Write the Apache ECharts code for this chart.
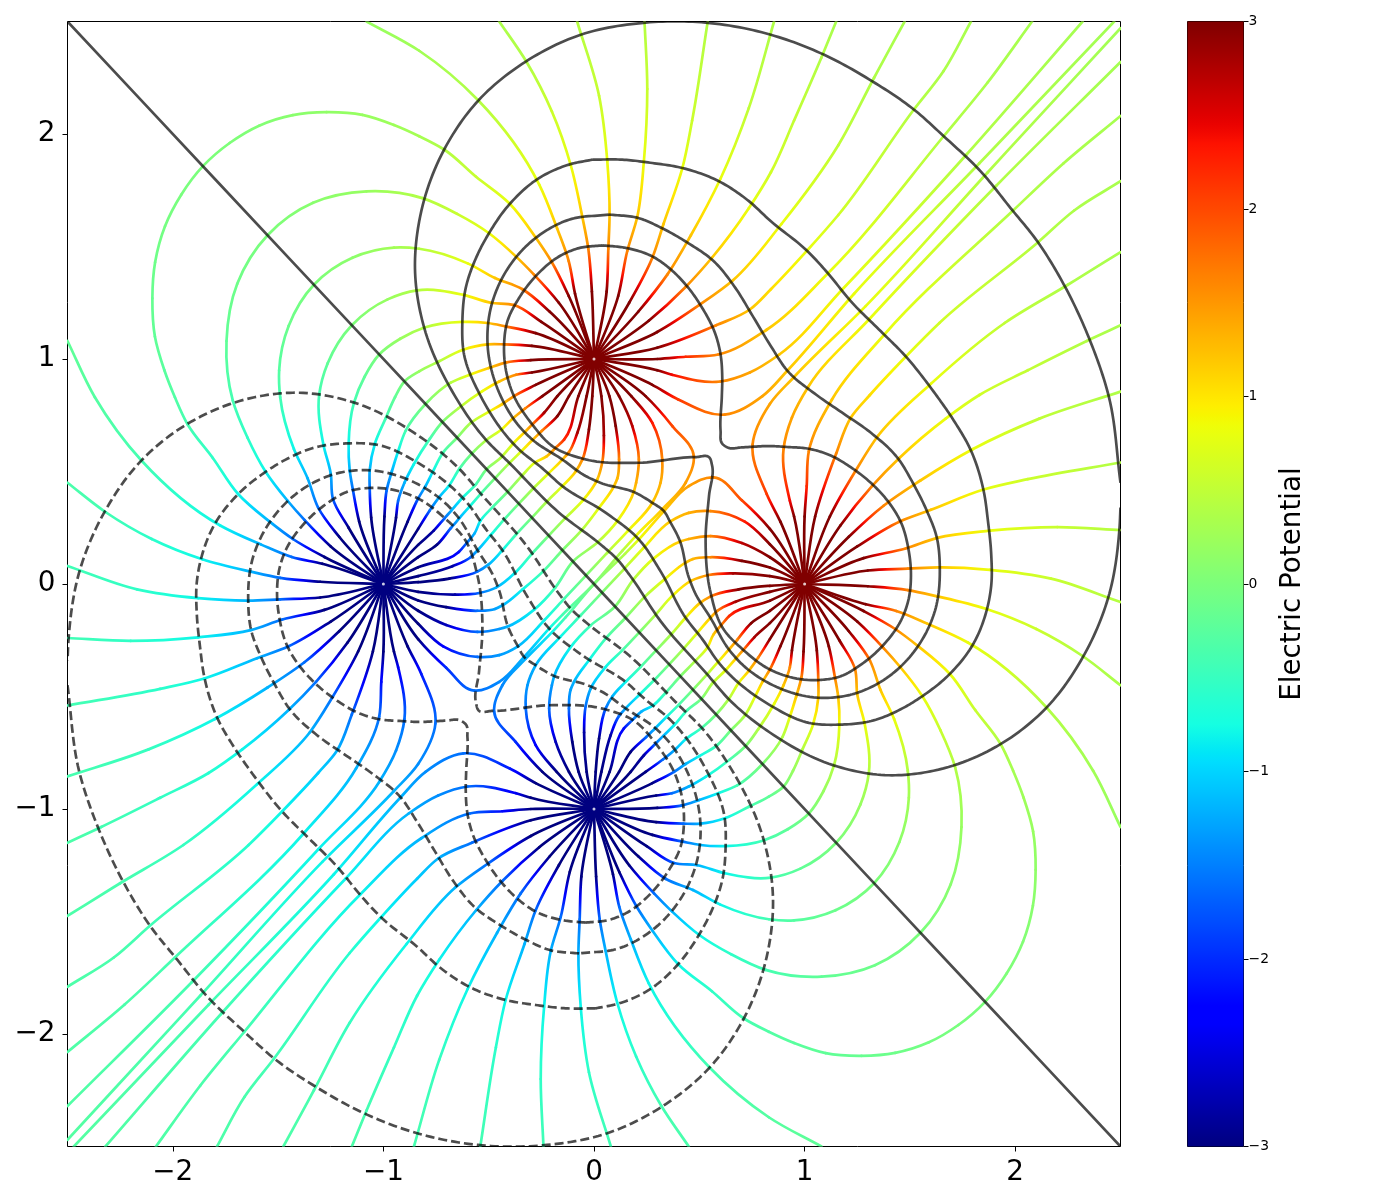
<!DOCTYPE html>
<html><head><meta charset="utf-8">
<style>html,body{margin:0;padding:0;background:#fff}#c{width:1400px;height:1200px}</style>
<script src="https://cdn.jsdelivr.net/npm/echarts@6/dist/echarts.min.js"></script></head>
<body><div id="c"></div>
<script>
const axisTicks=[-2,-1,0,1,2];
const colorTicks=[-3,-2,-1,0,1,2,3];
const colorLabel='Electric Potential';
const charges=[[0,1],[1,0],[-1,0],[0,-1]];
const leaveA=[
[[-1.08,2.5,.2],[-.83,2.37,.28],[-.55,2.15,.4],[-.26,1.775,.8],[-.175,1.58,1.2],[-.12,1.435,1.6],[-.09,1.29,3],[0,1,3]],
[[-.45,2.5,.35],[-.32,2.32,.4],[-.2,2.1,.58],[-.11,1.86,.8],[-.055,1.63,1.2],[-.027,1.49,1.6],[-.01,1.3,3],[0,1,3]],
[[-.08,2.5,.42],[.024,2.17,.55],[.063,1.88,.8],[.074,1.64,1.2],[.068,1.49,1.6],[.06,1.3,3],[0,1,3]],
[[.24,2.5,.42],[.253,2.2,.55],[.237,1.88,.8],[.205,1.63,1.2],[.158,1.48,1.6],[.115,1.28,3],[0,1,3]],
[[.54,2.5,.4],[.466,2.06,.58],[.42,1.85,.8],[.33,1.6,1.2],[.277,1.45,1.6],[.167,1.25,3],[0,1,3]],
[[.855,2.5,.38],[.735,2.115,.5],[.6,1.8,.8],[.46,1.55,1.2],[.348,1.375,1.6],[.21,1.21,3],[0,1,3]],
[[1.15,2.5,.33],[1.08,2.34,.4],[.95,2.06,.52],[.84,1.83,.62],[.735,1.67,.8],[.56,1.45,1.2],[.435,1.32,1.6],[.26,1.17,3],[0,1,3]],
[[1.475,2.5,.33],[1.33,2.25,.38],[1.16,1.95,.5],[.89,1.6,.8],[.66,1.35,1.2],[.5,1.24,1.6],[.3,1.12,3],[0,1,3]],
[[1.79,2.5,.33],[1.66,2.28,.36],[1.52,2.11,.42],[1.16,1.64,.62],[1.01,1.48,.8],[.84,1.31,1.05],[.74,1.22,1.2],[.58,1.15,1.6],[.3,1.05,3],[0,1,3]],
[[2.08,2.5,.32],[1.87,2.23,.35],[1.66,1.99,.4],[1.11,1.38,.8],[.82,1.13,1.2],[.59,1.02,1.6],[.435,1.01,2.2],[.3,1,3],[0,1,3]],
[[2.32,2.5,.3],[1.77,1.91,.4],[1.18,1.31,.8],[.88,1.02,1.2],[.74,.94,1.42],[.6,.9,1.6],[.37,.93,2.4],[.3,.95,3],[0,1,3]],
[[2.47,2.5,.28],[1.83,1.87,.4],[1.235,1.29,.8],[.92,.95,1.2],[.8,.835,1.42],[.62,.753,1.6],[.4,.82,2.1],[.277,.885,3],[0,1,3]]
];
const leaveB=[
[[2.5,-1.08,.2],[2.37,-.83,.28],[2.15,-.55,.4],[1.775,-.26,.8],[1.58,-.175,1.2],[1.435,-.12,1.6],[1.29,-.09,3],[1,0,3]],
[[2.5,-.45,.35],[2.32,-.32,.4],[2.1,-.2,.58],[1.86,-.11,.8],[1.63,-.055,1.2],[1.49,-.027,1.6],[1.3,-.01,3],[1,0,3]],
[[2.5,-.08,.42],[2.17,.024,.55],[1.88,.063,.8],[1.64,.074,1.2],[1.49,.068,1.6],[1.3,.06,3],[1,0,3]],
[[2.5,.24,.42],[2.2,.253,.55],[1.88,.237,.8],[1.63,.205,1.2],[1.48,.158,1.6],[1.28,.115,3],[1,0,3]],
[[2.5,.54,.4],[2.06,.466,.58],[1.85,.42,.8],[1.6,.33,1.2],[1.45,.277,1.6],[1.25,.167,3],[1,0,3]],
[[2.5,.855,.38],[2.115,.735,.5],[1.8,.6,.8],[1.55,.46,1.2],[1.375,.348,1.6],[1.21,.21,3],[1,0,3]],
[[2.5,1.15,.33],[2.34,1.08,.4],[2.06,.95,.52],[1.83,.84,.62],[1.67,.735,.8],[1.45,.56,1.2],[1.32,.435,1.6],[1.17,.26,3],[1,0,3]],
[[2.5,1.475,.33],[2.25,1.33,.38],[1.95,1.16,.5],[1.6,.89,.8],[1.35,.66,1.2],[1.24,.5,1.6],[1.12,.3,3],[1,0,3]],
[[2.5,1.79,.33],[2.28,1.66,.36],[2.11,1.52,.42],[1.64,1.16,.62],[1.48,1.01,.8],[1.31,.84,1.05],[1.22,.74,1.2],[1.15,.58,1.6],[1.05,.3,3],[1,0,3]],
[[2.5,2.08,.32],[2.23,1.87,.35],[1.99,1.66,.4],[1.38,1.11,.8],[1.13,.82,1.2],[1.02,.59,1.6],[1.01,.435,2.2],[1,.3,3],[1,0,3]],
[[2.5,2.32,.3],[1.91,1.77,.4],[1.31,1.18,.8],[1.02,.88,1.2],[.94,.74,1.42],[.9,.6,1.6],[.93,.37,2.4],[.95,.3,3],[1,0,3]],
[[2.5,2.47,.28],[1.87,1.83,.4],[1.29,1.235,.8],[.95,.92,1.2],[.835,.8,1.42],[.753,.62,1.6],[.82,.4,2.1],[.885,.277,3],[1,0,3]]
];
const enterC=[
[[-2.5,1.08,-.2],[-2.37,.83,-.28],[-2.15,.55,-.4],[-1.775,.26,-.8],[-1.58,.175,-1.2],[-1.435,.12,-1.6],[-1.29,.09,-3],[-1,0,-3]],
[[-2.5,.45,-.35],[-2.32,.32,-.4],[-2.1,.2,-.58],[-1.86,.11,-.8],[-1.63,.055,-1.2],[-1.49,.027,-1.6],[-1.3,.01,-3],[-1,0,-3]],
[[-2.5,.08,-.42],[-2.17,-.024,-.55],[-1.88,-.063,-.8],[-1.64,-.074,-1.2],[-1.49,-.068,-1.6],[-1.3,-.06,-3],[-1,0,-3]],
[[-2.5,-.24,-.42],[-2.2,-.253,-.55],[-1.88,-.237,-.8],[-1.63,-.205,-1.2],[-1.48,-.158,-1.6],[-1.28,-.115,-3],[-1,0,-3]],
[[-2.5,-.54,-.4],[-2.06,-.466,-.58],[-1.85,-.42,-.8],[-1.6,-.33,-1.2],[-1.45,-.277,-1.6],[-1.25,-.167,-3],[-1,0,-3]],
[[-2.5,-.855,-.38],[-2.115,-.735,-.5],[-1.8,-.6,-.8],[-1.55,-.46,-1.2],[-1.375,-.348,-1.6],[-1.21,-.21,-3],[-1,0,-3]],
[[-2.5,-1.15,-.33],[-2.34,-1.08,-.4],[-2.06,-.95,-.52],[-1.83,-.84,-.62],[-1.67,-.735,-.8],[-1.45,-.56,-1.2],[-1.32,-.435,-1.6],[-1.17,-.26,-3],[-1,0,-3]],
[[-2.5,-1.475,-.33],[-2.25,-1.33,-.38],[-1.95,-1.16,-.5],[-1.6,-.89,-.8],[-1.35,-.66,-1.2],[-1.24,-.5,-1.6],[-1.12,-.3,-3],[-1,0,-3]],
[[-2.5,-1.79,-.33],[-2.28,-1.66,-.36],[-2.11,-1.52,-.42],[-1.64,-1.16,-.62],[-1.48,-1.01,-.8],[-1.31,-.84,-1.05],[-1.22,-.74,-1.2],[-1.15,-.58,-1.6],[-1.05,-.3,-3],[-1,0,-3]],
[[-2.5,-2.08,-.32],[-2.23,-1.87,-.35],[-1.99,-1.66,-.4],[-1.38,-1.11,-.8],[-1.13,-.82,-1.2],[-1.02,-.59,-1.6],[-1.01,-.435,-2.2],[-1,-.3,-3],[-1,0,-3]],
[[-2.5,-2.32,-.3],[-1.91,-1.77,-.4],[-1.31,-1.18,-.8],[-1.02,-.88,-1.2],[-.94,-.74,-1.42],[-.9,-.6,-1.6],[-.93,-.37,-2.4],[-.95,-.3,-3],[-1,0,-3]],
[[-2.5,-2.47,-.28],[-1.87,-1.83,-.4],[-1.29,-1.235,-.8],[-.95,-.92,-1.2],[-.835,-.8,-1.42],[-.753,-.62,-1.6],[-.82,-.4,-2.1],[-.885,-.277,-3],[-1,0,-3]]
];
const enterD=[
[[1.08,-2.5,-.2],[.83,-2.37,-.28],[.55,-2.15,-.4],[.26,-1.775,-.8],[.175,-1.58,-1.2],[.12,-1.435,-1.6],[.09,-1.29,-3],[0,-1,-3]],
[[.45,-2.5,-.35],[.32,-2.32,-.4],[.2,-2.1,-.58],[.11,-1.86,-.8],[.055,-1.63,-1.2],[.027,-1.49,-1.6],[.01,-1.3,-3],[0,-1,-3]],
[[.08,-2.5,-.42],[-.024,-2.17,-.55],[-.063,-1.88,-.8],[-.074,-1.64,-1.2],[-.068,-1.49,-1.6],[-.06,-1.3,-3],[0,-1,-3]],
[[-.24,-2.5,-.42],[-.253,-2.2,-.55],[-.237,-1.88,-.8],[-.205,-1.63,-1.2],[-.158,-1.48,-1.6],[-.115,-1.28,-3],[0,-1,-3]],
[[-.54,-2.5,-.4],[-.466,-2.06,-.58],[-.42,-1.85,-.8],[-.33,-1.6,-1.2],[-.277,-1.45,-1.6],[-.167,-1.25,-3],[0,-1,-3]],
[[-.855,-2.5,-.38],[-.735,-2.115,-.5],[-.6,-1.8,-.8],[-.46,-1.55,-1.2],[-.348,-1.375,-1.6],[-.21,-1.21,-3],[0,-1,-3]],
[[-1.15,-2.5,-.33],[-1.08,-2.34,-.4],[-.95,-2.06,-.52],[-.84,-1.83,-.62],[-.735,-1.67,-.8],[-.56,-1.45,-1.2],[-.435,-1.32,-1.6],[-.26,-1.17,-3],[0,-1,-3]],
[[-1.475,-2.5,-.33],[-1.33,-2.25,-.38],[-1.16,-1.95,-.5],[-.89,-1.6,-.8],[-.66,-1.35,-1.2],[-.5,-1.24,-1.6],[-.3,-1.12,-3],[0,-1,-3]],
[[-1.79,-2.5,-.33],[-1.66,-2.28,-.36],[-1.52,-2.11,-.42],[-1.16,-1.64,-.62],[-1.01,-1.48,-.8],[-.84,-1.31,-1.05],[-.74,-1.22,-1.2],[-.58,-1.15,-1.6],[-.3,-1.05,-3],[0,-1,-3]],
[[-2.08,-2.5,-.32],[-1.87,-2.23,-.35],[-1.66,-1.99,-.4],[-1.11,-1.38,-.8],[-.82,-1.13,-1.2],[-.59,-1.02,-1.6],[-.435,-1.01,-2.2],[-.3,-1,-3],[0,-1,-3]],
[[-2.32,-2.5,-.3],[-1.77,-1.91,-.4],[-1.18,-1.31,-.8],[-.88,-1.02,-1.2],[-.74,-.94,-1.42],[-.6,-.9,-1.6],[-.37,-.93,-2.4],[-.3,-.95,-3],[0,-1,-3]],
[[-2.47,-2.5,-.28],[-1.83,-1.87,-.4],[-1.235,-1.29,-.8],[-.92,-.95,-1.2],[-.8,-.835,-1.42],[-.62,-.753,-1.6],[-.4,-.82,-2.1],[-.277,-.885,-3],[0,-1,-3]]
];
const linkAC=[
[[0,1,3],[-.12,1.28,3],[-.2,1.43,1.6],[-.277,1.54,1.2],[-.4,1.69,.8],[-.56,1.81,.55],[-.71,1.93,.4],[-.83,1.99,.3],[-.95,2.04,.25],[-1.1,2.085,.2],[-1.27,2.097,.15],[-1.43,2.084,.1],[-1.59,2.037,.05],[-1.73,1.96,.02],[-1.857,1.857,0],[-1.96,1.73,-.02],[-2.037,1.59,-.05],[-2.084,1.43,-.1],[-2.097,1.27,-.15],[-2.085,1.1,-.2],[-2.04,.95,-.25],[-1.99,.83,-.3],[-1.93,.71,-.4],[-1.81,.56,-.55],[-1.69,.4,-.8],[-1.54,.277,-1.2],[-1.43,.2,-1.6],[-1.28,.12,-3],[-1,0,-3]],
[[0,1,3],[-.167,1.25,3],[-.285,1.375,1.6],[-.37,1.455,1.2],[-.5,1.56,.8],[-.65,1.645,.55],[-.815,1.715,.4],[-1.08,1.745,.2],[-1.334,1.694,.1],[-1.55,1.55,0],[-1.694,1.334,-.1],[-1.745,1.08,-.2],[-1.715,.815,-.4],[-1.645,.65,-.55],[-1.56,.5,-.8],[-1.455,.37,-1.2],[-1.375,.285,-1.6],[-1.25,.167,-3],[-1,0,-3]],
[[0,1,3],[-.21,1.21,3],[-.34,1.31,1.6],[-.47,1.36,1.2],[-.6,1.425,.8],[-.83,1.49,.4],[-.95,1.495,.28],[-1.147,1.45,.12],[-1.33,1.33,0],[-1.45,1.147,-.12],[-1.495,.95,-.28],[-1.49,.83,-.4],[-1.425,.6,-.8],[-1.36,.47,-1.2],[-1.31,.34,-1.6],[-1.21,.21,-3],[-1,0,-3]],
[[0,1,3],[-.25,1.165,3],[-.38,1.24,1.6],[-.49,1.25,1.2],[-.62,1.285,.8],[-.84,1.305,.4],[-.98,1.265,.2],[-1.15,1.15,0],[-1.265,.98,-.2],[-1.305,.84,-.4],[-1.285,.62,-.8],[-1.25,.49,-1.2],[-1.24,.38,-1.6],[-1.165,.25,-3],[-1,0,-3]],
[[0,1,3],[-.277,1.115,3],[-.42,1.145,1.6],[-.505,1.16,1.2],[-.625,1.165,.8],[-.805,1.14,.4],[-.92,1.09,.2],[-1.02,1.02,0],[-1.09,.92,-.2],[-1.14,.805,-.4],[-1.165,.625,-.8],[-1.16,.505,-1.2],[-1.145,.42,-1.6],[-1.115,.277,-3],[-1,0,-3]],
[[0,1,3],[-.295,1.058,3],[-.425,1.065,1.6],[-.505,1.065,1.2],[-.625,1.04,.8],[-.735,.99,.4],[-.83,.945,.2],[-.9,.9,0],[-.945,.83,-.2],[-.99,.735,-.4],[-1.04,.625,-.8],[-1.065,.505,-1.2],[-1.065,.425,-1.6],[-1.058,.295,-3],[-1,0,-3]],
[[0,1,3],[-.3,.995,3],[-.415,.985,1.6],[-.5,.96,1.2],[-.59,.93,.8],[-.68,.895,.4],[-.8,.8,0],[-.895,.68,-.4],[-.93,.59,-.8],[-.96,.5,-1.2],[-.985,.415,-1.6],[-.995,.3,-3],[-1,0,-3]],
[[0,1,3],[-.295,.94,3],[-.37,.93,1.6],[-.45,.9,1.2],[-.53,.857,.8],[-.645,.78,.4],[-.72,.72,0],[-.78,.645,-.4],[-.857,.53,-.8],[-.9,.45,-1.2],[-.93,.37,-1.6],[-.94,.295,-3],[-1,0,-3]],
[[0,1,3],[-.277,.885,3],[-.38,.835,1.6],[-.435,.8,1.2],[-.5,.765,.8],[-.585,.716,.4],[-.65,.65,0],[-.716,.585,-.4],[-.765,.5,-.8],[-.8,.435,-1.2],[-.835,.38,-1.6],[-.885,.277,-3],[-1,0,-3]],
[[0,1,3],[-.245,.835,3],[-.327,.78,1.6],[-.387,.734,1.2],[-.435,.69,.8],[-.514,.638,.4],[-.58,.58,0],[-.638,.514,-.4],[-.69,.435,-.8],[-.734,.387,-1.2],[-.78,.327,-1.6],[-.835,.245,-3],[-1,0,-3]],
[[0,1,3],[-.174,.835,3],[-.237,.761,2.8],[-.293,.709,1.6],[-.329,.675,1.2],[-.38,.628,.8],[-.444,.56,.4],[-.51,.51,0],[-.56,.444,-.4],[-.628,.38,-.8],[-.675,.329,-1.2],[-.709,.293,-1.6],[-.761,.237,-2.8],[-.835,.174,-3],[-1,0,-3]],
[[0,1,3],[-.119,.835,3],[-.174,.746,3],[-.248,.68,1.6],[-.291,.641,1.2],[-.345,.59,.8],[-.402,.537,.4],[-.47,.47,0],[-.537,.402,-.4],[-.59,.345,-.8],[-.641,.291,-1.2],[-.68,.248,-1.6],[-.746,.174,-3],[-.835,.119,-3],[-1,0,-3]],
[[0,1,3],[-.074,.835,3],[-.142,.642,2.2],[-.182,.605,1.6],[-.225,.567,1.2],[-.28,.54,.8],[-.342,.481,.4],[-.41,.41,0],[-.481,.342,-.4],[-.54,.28,-.8],[-.567,.225,-1.2],[-.605,.182,-1.6],[-.642,.142,-2.2],[-.835,.074,-3],[-1,0,-3]],
[[0,1,3],[-.035,.835,3],[-.079,.672,2.8],[-.119,.586,1.6],[-.15,.553,1.2],[-.218,.49,.8],[-.285,.428,.4],[-.357,.357,0],[-.428,.285,-.4],[-.49,.218,-.8],[-.553,.15,-1.2],[-.586,.119,-1.6],[-.672,.079,-2.8],[-.835,.035,-3],[-1,0,-3]],
[[0,1,3],[-.008,.835,3],[-.024,.687,3],[-.055,.554,1.6],[-.087,.5,1.2],[-.15,.435,.8],[-.221,.369,.4],[-.295,.295,0],[-.369,.221,-.4],[-.435,.15,-.8],[-.5,.087,-1.2],[-.554,.055,-1.6],[-.687,.024,-3],[-.835,.008,-3],[-1,0,-3]],
[[0,1,3],[.035,.835,3],[.047,.66,2.8],[.04,.545,1.6],[.016,.465,1.2],[-.055,.369,.8],[-.134,.295,.4],[-.215,.215,0],[-.295,.134,-.4],[-.369,.055,-.8],[-.465,-.016,-1.2],[-.545,-.04,-1.6],[-.66,-.047,-2.8],[-.835,-.035,-3],[-1,0,-3]],
[[0,1,3],[.073,.835,3],[.103,.702,3],[.119,.554,1.6],[.111,.47,1.3],[.095,.435,1.2],[.024,.339,.8],[-.055,.243,.4],[-.15,.15,0],[-.243,.055,-.4],[-.339,-.024,-.8],[-.435,-.095,-1.2],[-.47,-.111,-1.3],[-.554,-.119,-1.6],[-.702,-.103,-3],[-.835,-.073,-3],[-1,0,-3]],
[[0,1,3],[.119,.835,3],[.182,.702,2.7],[.213,.554,1.6],[.2,.45,1.35],[.19,.413,1.2],[.114,.284,.8],[.016,.184,.4],[-.1,.1,0],[-.184,-.016,-.4],[-.284,-.114,-.8],[-.413,-.19,-1.2],[-.45,-.2,-1.35],[-.554,-.213,-1.6],[-.702,-.182,-2.7],[-.835,-.119,-3],[-1,0,-3]],
[[0,1,3],[.177,.835,3],[.277,.716,2.3],[.324,.554,1.6],[.316,.45,1.35],[.277,.361,1.2],[.16,.235,.8],[.063,.139,.4],[-.038,.038,0],[-.139,-.063,-.4],[-.235,-.16,-.8],[-.361,-.277,-1.2],[-.45,-.316,-1.35],[-.554,-.324,-1.6],[-.716,-.277,-2.3],[-.835,-.177,-3],[-1,0,-3]],
[[0,1,3],[.245,.835,3],[.372,.702,2],[.474,.568,1.6],[.435,.45,1.45],[.324,.332,1.2],[.198,.213,.8],[.134,.147,.4],[0,0,0],[-.147,-.134,-.4],[-.213,-.198,-.8],[-.332,-.324,-1.2],[-.45,-.435,-1.45],[-.568,-.474,-1.6],[-.702,-.372,-2],[-.835,-.245,-3],[-1,0,-3]]
];
const linkBD=[
[[1,0,3],[1.28,-.12,3],[1.43,-.2,1.6],[1.54,-.277,1.2],[1.69,-.4,.8],[1.81,-.56,.55],[1.93,-.71,.4],[1.99,-.83,.3],[2.04,-.95,.25],[2.085,-1.1,.2],[2.097,-1.27,.15],[2.084,-1.43,.1],[2.037,-1.59,.05],[1.96,-1.73,.02],[1.857,-1.857,0],[1.73,-1.96,-.02],[1.59,-2.037,-.05],[1.43,-2.084,-.1],[1.27,-2.097,-.15],[1.1,-2.085,-.2],[.95,-2.04,-.25],[.83,-1.99,-.3],[.71,-1.93,-.4],[.56,-1.81,-.55],[.4,-1.69,-.8],[.277,-1.54,-1.2],[.2,-1.43,-1.6],[.12,-1.28,-3],[0,-1,-3]],
[[1,0,3],[1.25,-.167,3],[1.375,-.285,1.6],[1.455,-.37,1.2],[1.56,-.5,.8],[1.645,-.65,.55],[1.715,-.815,.4],[1.745,-1.08,.2],[1.694,-1.334,.1],[1.55,-1.55,0],[1.334,-1.694,-.1],[1.08,-1.745,-.2],[.815,-1.715,-.4],[.65,-1.645,-.55],[.5,-1.56,-.8],[.37,-1.455,-1.2],[.285,-1.375,-1.6],[.167,-1.25,-3],[0,-1,-3]],
[[1,0,3],[1.21,-.21,3],[1.31,-.34,1.6],[1.36,-.47,1.2],[1.425,-.6,.8],[1.49,-.83,.4],[1.495,-.95,.28],[1.45,-1.147,.12],[1.33,-1.33,0],[1.147,-1.45,-.12],[.95,-1.495,-.28],[.83,-1.49,-.4],[.6,-1.425,-.8],[.47,-1.36,-1.2],[.34,-1.31,-1.6],[.21,-1.21,-3],[0,-1,-3]],
[[1,0,3],[1.165,-.25,3],[1.24,-.38,1.6],[1.25,-.49,1.2],[1.285,-.62,.8],[1.305,-.84,.4],[1.265,-.98,.2],[1.15,-1.15,0],[.98,-1.265,-.2],[.84,-1.305,-.4],[.62,-1.285,-.8],[.49,-1.25,-1.2],[.38,-1.24,-1.6],[.25,-1.165,-3],[0,-1,-3]],
[[1,0,3],[1.115,-.277,3],[1.145,-.42,1.6],[1.16,-.505,1.2],[1.165,-.625,.8],[1.14,-.805,.4],[1.09,-.92,.2],[1.02,-1.02,0],[.92,-1.09,-.2],[.805,-1.14,-.4],[.625,-1.165,-.8],[.505,-1.16,-1.2],[.42,-1.145,-1.6],[.277,-1.115,-3],[0,-1,-3]],
[[1,0,3],[1.058,-.295,3],[1.065,-.425,1.6],[1.065,-.505,1.2],[1.04,-.625,.8],[.99,-.735,.4],[.945,-.83,.2],[.9,-.9,0],[.83,-.945,-.2],[.735,-.99,-.4],[.625,-1.04,-.8],[.505,-1.065,-1.2],[.425,-1.065,-1.6],[.295,-1.058,-3],[0,-1,-3]],
[[1,0,3],[.995,-.3,3],[.985,-.415,1.6],[.96,-.5,1.2],[.93,-.59,.8],[.895,-.68,.4],[.8,-.8,0],[.68,-.895,-.4],[.59,-.93,-.8],[.5,-.96,-1.2],[.415,-.985,-1.6],[.3,-.995,-3],[0,-1,-3]],
[[1,0,3],[.94,-.295,3],[.93,-.37,1.6],[.9,-.45,1.2],[.857,-.53,.8],[.78,-.645,.4],[.72,-.72,0],[.645,-.78,-.4],[.53,-.857,-.8],[.45,-.9,-1.2],[.37,-.93,-1.6],[.295,-.94,-3],[0,-1,-3]],
[[1,0,3],[.885,-.277,3],[.835,-.38,1.6],[.8,-.435,1.2],[.765,-.5,.8],[.716,-.585,.4],[.65,-.65,0],[.585,-.716,-.4],[.5,-.765,-.8],[.435,-.8,-1.2],[.38,-.835,-1.6],[.277,-.885,-3],[0,-1,-3]],
[[1,0,3],[.835,-.245,3],[.78,-.327,1.6],[.734,-.387,1.2],[.69,-.435,.8],[.638,-.514,.4],[.58,-.58,0],[.514,-.638,-.4],[.435,-.69,-.8],[.387,-.734,-1.2],[.327,-.78,-1.6],[.245,-.835,-3],[0,-1,-3]],
[[1,0,3],[.835,-.174,3],[.761,-.237,2.8],[.709,-.293,1.6],[.675,-.329,1.2],[.628,-.38,.8],[.56,-.444,.4],[.51,-.51,0],[.444,-.56,-.4],[.38,-.628,-.8],[.329,-.675,-1.2],[.293,-.709,-1.6],[.237,-.761,-2.8],[.174,-.835,-3],[0,-1,-3]],
[[1,0,3],[.835,-.119,3],[.746,-.174,3],[.68,-.248,1.6],[.641,-.291,1.2],[.59,-.345,.8],[.537,-.402,.4],[.47,-.47,0],[.402,-.537,-.4],[.345,-.59,-.8],[.291,-.641,-1.2],[.248,-.68,-1.6],[.174,-.746,-3],[.119,-.835,-3],[0,-1,-3]],
[[1,0,3],[.835,-.074,3],[.642,-.142,2.2],[.605,-.182,1.6],[.567,-.225,1.2],[.54,-.28,.8],[.481,-.342,.4],[.41,-.41,0],[.342,-.481,-.4],[.28,-.54,-.8],[.225,-.567,-1.2],[.182,-.605,-1.6],[.142,-.642,-2.2],[.074,-.835,-3],[0,-1,-3]],
[[1,0,3],[.835,-.035,3],[.672,-.079,2.8],[.586,-.119,1.6],[.553,-.15,1.2],[.49,-.218,.8],[.428,-.285,.4],[.357,-.357,0],[.285,-.428,-.4],[.218,-.49,-.8],[.15,-.553,-1.2],[.119,-.586,-1.6],[.079,-.672,-2.8],[.035,-.835,-3],[0,-1,-3]],
[[1,0,3],[.835,-.008,3],[.687,-.024,3],[.554,-.055,1.6],[.5,-.087,1.2],[.435,-.15,.8],[.369,-.221,.4],[.295,-.295,0],[.221,-.369,-.4],[.15,-.435,-.8],[.087,-.5,-1.2],[.055,-.554,-1.6],[.024,-.687,-3],[.008,-.835,-3],[0,-1,-3]],
[[1,0,3],[.835,.035,3],[.66,.047,2.8],[.545,.04,1.6],[.465,.016,1.2],[.369,-.055,.8],[.295,-.134,.4],[.215,-.215,0],[.134,-.295,-.4],[.055,-.369,-.8],[-.016,-.465,-1.2],[-.04,-.545,-1.6],[-.047,-.66,-2.8],[-.035,-.835,-3],[0,-1,-3]],
[[1,0,3],[.835,.073,3],[.702,.103,3],[.554,.119,1.6],[.47,.111,1.3],[.435,.095,1.2],[.339,.024,.8],[.243,-.055,.4],[.15,-.15,0],[.055,-.243,-.4],[-.024,-.339,-.8],[-.095,-.435,-1.2],[-.111,-.47,-1.3],[-.119,-.554,-1.6],[-.103,-.702,-3],[-.073,-.835,-3],[0,-1,-3]],
[[1,0,3],[.835,.119,3],[.702,.182,2.7],[.554,.213,1.6],[.45,.2,1.35],[.413,.19,1.2],[.284,.114,.8],[.184,.016,.4],[.1,-.1,0],[-.016,-.184,-.4],[-.114,-.284,-.8],[-.19,-.413,-1.2],[-.2,-.45,-1.35],[-.213,-.554,-1.6],[-.182,-.702,-2.7],[-.119,-.835,-3],[0,-1,-3]],
[[1,0,3],[.835,.177,3],[.716,.277,2.3],[.554,.324,1.6],[.45,.316,1.35],[.361,.277,1.2],[.235,.16,.8],[.139,.063,.4],[.038,-.038,0],[-.063,-.139,-.4],[-.16,-.235,-.8],[-.277,-.361,-1.2],[-.316,-.45,-1.35],[-.324,-.554,-1.6],[-.277,-.716,-2.3],[-.177,-.835,-3],[0,-1,-3]],
[[1,0,3],[.835,.245,3],[.702,.372,2],[.568,.474,1.6],[.45,.435,1.45],[.332,.324,1.2],[.213,.198,.8],[.147,.134,.4],[0,0,0],[-.134,-.147,-.4],[-.198,-.213,-.8],[-.324,-.332,-1.2],[-.435,-.45,-1.45],[-.474,-.568,-1.6],[-.372,-.702,-2],[-.245,-.835,-3],[0,-1,-3]]
];
// equipotential contours
const zeroLine=[[-2.5,2.5],[2.5,-2.5]];
const pos1=[[2.5,.45],[2.444,.835],[2.35,1.094],[2.231,1.331],[2.105,1.523],[1.978,1.671],[1.836,1.834],[1.662,1.989],[1.52,2.108],[1.322,2.234],[1.093,2.352],[.84,2.441],[.53,2.495],[.245,2.495],[-.063,2.441],[-.324,2.322],[-.546,2.152],[-.712,1.93],[-.83,1.612],[-.85,1.4],[-.806,1.138],[-.66,.835],[-.514,.642],[-.403,.539],[-.166,.317],[.04,.169],[.11,.11],[.169,.04],[.317,-.166],[.539,-.403],[.642,-.514],[.835,-.66],[1.138,-.806],[1.4,-.85],[1.612,-.83],[1.93,-.712],[2.152,-.546],[2.322,-.324],[2.441,-.063],[2.495,.245],[2.5,.34]];
const pos2=[[-.008,1.886],[.134,1.886],[.277,1.871],[.419,1.849],[.593,1.79],[.727,1.708],[.84,1.612],[1.014,1.479],[1.109,1.383],[1.219,1.257],[1.362,1.123],[1.472,1.02],[1.622,.843],[1.708,.727],[1.79,.593],[1.849,.419],[1.871,.277],[1.886,.134],[1.886,-.008],[1.864,-.119],[1.804,-.261],[1.686,-.403],[1.56,-.498],[1.464,-.553],[1.316,-.609],[1.168,-.625],[1.02,-.617],[.835,-.538],[.598,-.356],[.515,-.246],[.435,-.15],[.317,.055],[.213,.198],[.055,.317],[-.15,.435],[-.246,.515],[-.356,.598],[-.538,.835],[-.617,1.02],[-.625,1.168],[-.609,1.316],[-.553,1.464],[-.498,1.56],[-.403,1.686],[-.261,1.804],[-.119,1.864],[-.008,1.886]];
const pos3=[[.071,1.642],[.209,1.627],[.324,1.581],[.451,1.513],[.561,1.441],[.672,1.315],[.751,1.195],[.84,1.057],[.92,.946],[1.057,.84],[1.195,.751],[1.315,.672],[1.441,.561],[1.513,.451],[1.581,.324],[1.627,.209],[1.642,.071],[1.619,-.119],[1.538,-.277],[1.375,-.427],[1.227,-.49],[1.079,-.506],[.835,-.443],[.702,-.356],[.642,-.293],[.553,-.15],[.48,-.04],[.45,.03],[.405,.198],[.361,.277],[.332,.324],[.277,.361],[.198,.405],[.03,.45],[-.04,.48],[-.15,.553],[-.293,.642],[-.356,.702],[-.443,.835],[-.506,1.079],[-.49,1.227],[-.427,1.375],[-.277,1.538],[-.119,1.619],[.071,1.642]];
const pos4=[[.04,1.505],[.15,1.494],[.277,1.456],[.356,1.405],[.435,1.331],[.514,1.227],[.577,1.109],[.601,1.02],[.609,.916],[.607,.835],[.601,.68],[.608,.625],[.64,.605],[.7,.607],[.84,.613],[.916,.609],[1.02,.601],[1.109,.577],[1.227,.514],[1.331,.435],[1.405,.356],[1.456,.277],[1.494,.15],[1.505,.04],[1.493,-.071],[1.464,-.15],[1.368,-.277],[1.271,-.356],[1.168,-.411],[1.064,-.427],[.835,-.38],[.709,-.293],[.613,-.198],[.554,-.04],[.53,.198],[.546,.391],[.56,.53],[.548,.562],[.482,.564],[.213,.539],[-.04,.554],[-.198,.613],[-.293,.709],[-.38,.835],[-.427,1.064],[-.411,1.168],[-.356,1.271],[-.277,1.368],[-.15,1.464],[-.071,1.493],[.04,1.505]];
const neg1=[[-2.5,-.45],[-2.444,-.835],[-2.35,-1.094],[-2.231,-1.331],[-2.105,-1.523],[-1.978,-1.671],[-1.836,-1.834],[-1.662,-1.989],[-1.52,-2.108],[-1.322,-2.234],[-1.093,-2.352],[-.84,-2.441],[-.53,-2.495],[-.245,-2.495],[.063,-2.441],[.324,-2.322],[.546,-2.152],[.712,-1.93],[.83,-1.612],[.85,-1.4],[.806,-1.138],[.66,-.835],[.514,-.642],[.403,-.539],[.166,-.317],[-.04,-.169],[-.11,-.11],[-.169,-.04],[-.317,.166],[-.539,.403],[-.642,.514],[-.835,.66],[-1.138,.806],[-1.4,.85],[-1.612,.83],[-1.93,.712],[-2.152,.546],[-2.322,.324],[-2.441,.063],[-2.495,-.245],[-2.5,-.34]];
const neg2=[[.008,-1.886],[-.134,-1.886],[-.277,-1.871],[-.419,-1.849],[-.593,-1.79],[-.727,-1.708],[-.84,-1.612],[-1.014,-1.479],[-1.109,-1.383],[-1.219,-1.257],[-1.362,-1.123],[-1.472,-1.02],[-1.622,-.843],[-1.708,-.727],[-1.79,-.593],[-1.849,-.419],[-1.871,-.277],[-1.886,-.134],[-1.886,.008],[-1.864,.119],[-1.804,.261],[-1.686,.403],[-1.56,.498],[-1.464,.553],[-1.316,.609],[-1.168,.625],[-1.02,.617],[-.835,.538],[-.598,.356],[-.515,.246],[-.435,.15],[-.317,-.055],[-.213,-.198],[-.055,-.317],[.15,-.435],[.246,-.515],[.356,-.598],[.538,-.835],[.617,-1.02],[.625,-1.168],[.609,-1.316],[.553,-1.464],[.498,-1.56],[.403,-1.686],[.261,-1.804],[.119,-1.864],[.008,-1.886]];
const neg3=[[-.071,-1.642],[-.209,-1.627],[-.324,-1.581],[-.451,-1.513],[-.561,-1.441],[-.672,-1.315],[-.751,-1.195],[-.84,-1.057],[-.92,-.946],[-1.057,-.84],[-1.195,-.751],[-1.315,-.672],[-1.441,-.561],[-1.513,-.451],[-1.581,-.324],[-1.627,-.209],[-1.642,-.071],[-1.619,.119],[-1.538,.277],[-1.375,.427],[-1.227,.49],[-1.079,.506],[-.835,.443],[-.702,.356],[-.642,.293],[-.553,.15],[-.48,.04],[-.45,-.03],[-.405,-.198],[-.361,-.277],[-.332,-.324],[-.277,-.361],[-.198,-.405],[-.03,-.45],[.04,-.48],[.15,-.553],[.293,-.642],[.356,-.702],[.443,-.835],[.506,-1.079],[.49,-1.227],[.427,-1.375],[.277,-1.538],[.119,-1.619],[-.071,-1.642]];
const neg4=[[-.04,-1.505],[-.15,-1.494],[-.277,-1.456],[-.356,-1.405],[-.435,-1.331],[-.514,-1.227],[-.577,-1.109],[-.601,-1.02],[-.609,-.916],[-.607,-.835],[-.601,-.68],[-.608,-.625],[-.64,-.605],[-.7,-.607],[-.84,-.613],[-.916,-.609],[-1.02,-.601],[-1.109,-.577],[-1.227,-.514],[-1.331,-.435],[-1.405,-.356],[-1.456,-.277],[-1.494,-.15],[-1.505,-.04],[-1.493,.071],[-1.464,.15],[-1.368,.277],[-1.271,.356],[-1.168,.411],[-1.064,.427],[-.835,.38],[-.709,.293],[-.613,.198],[-.554,.04],[-.53,-.198],[-.546,-.391],[-.56,-.53],[-.548,-.562],[-.482,-.564],[-.213,-.539],[.04,-.554],[.198,-.613],[.293,-.709],[.38,-.835],[.427,-1.064],[.411,-1.168],[.356,-1.271],[.277,-1.368],[.15,-1.464],[.071,-1.493],[-.04,-1.505]];

const JET={r:[[0,0],[.35,0],[.66,1],[.89,1],[1,.5]],g:[[0,0],[.125,0],[.375,1],[.64,1],[.91,0],[1,0]],b:[[0,.5],[.11,1],[.34,1],[.65,0],[1,0]]};
function seg(tab,t){for(let i=1;i<tab.length;i++){if(t<=tab[i][0]){const a=tab[i-1],b=tab[i];return a[1]+(b[1]-a[1])*(t-a[0])/(b[0]-a[0]);}}return tab[tab.length-1][1];}
function jet(v){const t=(Math.max(-3,Math.min(3,v))+3)/6;const c=k=>Math.round(255*seg(JET[k],t));return `rgb(${c('r')},${c('g')},${c('b')})`;}
function stops(a,b){const n=Math.abs(a-b)>.5?8:2,out=[];for(let i=0;i<=n;i++)out.push({offset:i/n,color:jet(a+(b-a)*i/n)});return out;}

// curve drawing: tangent at a vertex from its two neighbours, weighted towards the nearer one
function tangent(p,q,n){
  const d1=Math.hypot(q[0]-p[0],q[1]-p[1])||1e-6,d2=Math.hypot(n[0]-q[0],n[1]-q[1])||1e-6;
  const tx=(q[0]-p[0])/d1*d2+(n[0]-q[0])/d2*d1,ty=(q[1]-p[1])/d1*d2+(n[1]-q[1])/d2*d1,l=Math.hypot(tx,ty)||1;
  return [tx/l,ty/l];
}
function ctrl(pts,i){
  const a=pts[i-1],b=pts[i],pm=pts[Math.max(0,i-2)],pn=pts[Math.min(pts.length-1,i+1)];
  const len=Math.hypot(b[0]-a[0],b[1]-a[1])/3;
  const u=i>=2?tangent(pm,a,b):tangent(a,a,b),w=i<pts.length-1?tangent(a,b,pn):tangent(a,b,b);
  return {a,b,c1:[a[0]+u[0]*len,a[1]+u[1]*len],c2:[b[0]-w[0]*len,b[1]-w[1]*len]};
}
const fieldLines=[...leaveA,...leaveB,...enterC,...enterD,...linkAC,...linkBD];
const rows=[];fieldLines.forEach((L,li)=>L.forEach((p,pi)=>rows.push([p[0],p[1],p[2],li,pi])));
function renderField(params,api){
  const li=api.value(3),pi=api.value(4),L=fieldLines[li];
  if(pi===0)return null;
  const pts=L.map(p=>api.coord([p[0],p[1]]));
  const s=ctrl(pts,pi);
  return {type:'bezierCurve',shape:{x1:s.a[0],y1:s.a[1],x2:s.b[0],y2:s.b[1],cpx1:s.c1[0],cpy1:s.c1[1],cpx2:s.c2[0],cpy2:s.c2[1]},
    style:{fill:'none',lineWidth:2.7,lineCap:'round',stroke:new echarts.graphic.LinearGradient(s.a[0],s.a[1],s.b[0],s.b[1],stops(L[pi-1][2],L[pi][2]),true)}};
}
function contourSeries(d,dash){
  return {type:'custom',xAxisIndex:0,yAxisIndex:0,coordinateSystem:'cartesian2d',clip:true,z:5,silent:true,animation:false,progressive:0,
    encode:{x:0,y:1},data:d,
    renderItem:(params,api)=>{
      if(params.dataIndex!==0)return null;
      const pts=d.map(p=>api.coord(p)),out=[pts[0]];
      for(let i=1;i<pts.length;i++){const s=ctrl(pts,i);
        for(let k=1;k<=14;k++){const t=k/14,m=1-t;
          out.push([m*m*m*s.a[0]+3*m*m*t*s.c1[0]+3*m*t*t*s.c2[0]+t*t*t*s.b[0],m*m*m*s.a[1]+3*m*m*t*s.c1[1]+3*m*t*t*s.c2[1]+t*t*t*s.b[1]]);}}
      return {type:'polyline',shape:{points:out},style:{fill:'none',stroke:'rgba(0,0,0,0.7)',lineWidth:2.7,lineDash:dash||null,lineJoin:'round'}};
    }};
}
const minus=v=>String(v).replace('-','\u2212');
const FONT='DejaVu Sans';
const chart=echarts.init(document.getElementById('c'),null,{renderer:'canvas'});
const tickStyle={show:true,length:5,lineStyle:{color:'#000',width:1}};
chart.setOption({
  animation:false,backgroundColor:'#fff',
  grid:[{left:67.5,top:21.5,width:1053,height:1125,show:true,borderColor:'#000',borderWidth:1,backgroundColor:'#fff',containLabel:false,z:0},
        {left:1187.5,top:21.5,width:56,height:1125,show:true,borderColor:'#000',borderWidth:1,backgroundColor:'transparent',containLabel:false}],
  xAxis:[{type:'value',gridIndex:0,min:-2.5,max:2.5,position:'bottom',axisLine:{show:false,onZero:false},splitLine:{show:false},
          axisTick:{...tickStyle,customValues:axisTicks},
          axisLabel:{customValues:axisTicks,formatter:minus,fontFamily:FONT,fontSize:27.8,color:'#000',margin:12}},
         {type:'value',gridIndex:1,min:0,max:1,show:false,axisLine:{onZero:false}}],
  yAxis:[{type:'value',gridIndex:0,min:-2.5,max:2.5,position:'left',axisLine:{show:false,onZero:false},splitLine:{show:false},
          axisTick:{...tickStyle,customValues:axisTicks},
          axisLabel:{customValues:axisTicks,formatter:minus,fontFamily:FONT,fontSize:27.8,color:'#000',margin:12,padding:[4,0,0,0]}},
         {type:'value',gridIndex:1,min:-3,max:3,interval:1,position:'right',axisLine:{show:false,onZero:false},splitLine:{show:false},
          axisTick:{...tickStyle,customValues:colorTicks},
          axisLabel:{customValues:colorTicks,formatter:minus,fontFamily:FONT,fontSize:13.9,color:'#000',margin:5,padding:[2,0,0,0]},
          name:colorLabel,nameLocation:'middle',nameRotate:90,nameGap:35,nameTextStyle:{fontFamily:FONT,fontSize:27.8,color:'#000'}}],
  series:[
    {type:'custom',name:'field lines',xAxisIndex:0,yAxisIndex:0,coordinateSystem:'cartesian2d',clip:true,z:2,silent:true,progressive:0,animation:false,
     dimensions:['x','y','potential','line','point'],encode:{x:0,y:1},data:rows,renderItem:renderField},
    contourSeries(zeroLine),
    contourSeries(pos1),contourSeries(pos2),contourSeries(pos3),contourSeries(pos4),
    contourSeries(neg1,[9,4]),contourSeries(neg2,[9,4]),contourSeries(neg3,[9,4]),contourSeries(neg4,[9,4]),
    {type:'scatter',xAxisIndex:0,yAxisIndex:0,data:charges,symbolSize:3,itemStyle:{color:'#fff'},z:6,silent:true,animation:false},
    {type:'custom',name:'colorbar',xAxisIndex:1,yAxisIndex:1,coordinateSystem:'cartesian2d',z:1,silent:true,animation:false,
     data:[[0,-3,1,3]],encode:{x:[0,2],y:[1,3]},
     renderItem:(p,api)=>{const a=api.coord([0,3]),b=api.coord([1,-3]);const n=120,st=[];for(let i=0;i<=n;i++)st.push({offset:i/n,color:jet(3-6*i/n)});
       return {type:'rect',shape:{x:a[0],y:a[1],width:b[0]-a[0],height:b[1]-a[1]},style:{fill:new echarts.graphic.LinearGradient(0,0,0,1,st)}};}}
  ]
});
</script></body></html>
